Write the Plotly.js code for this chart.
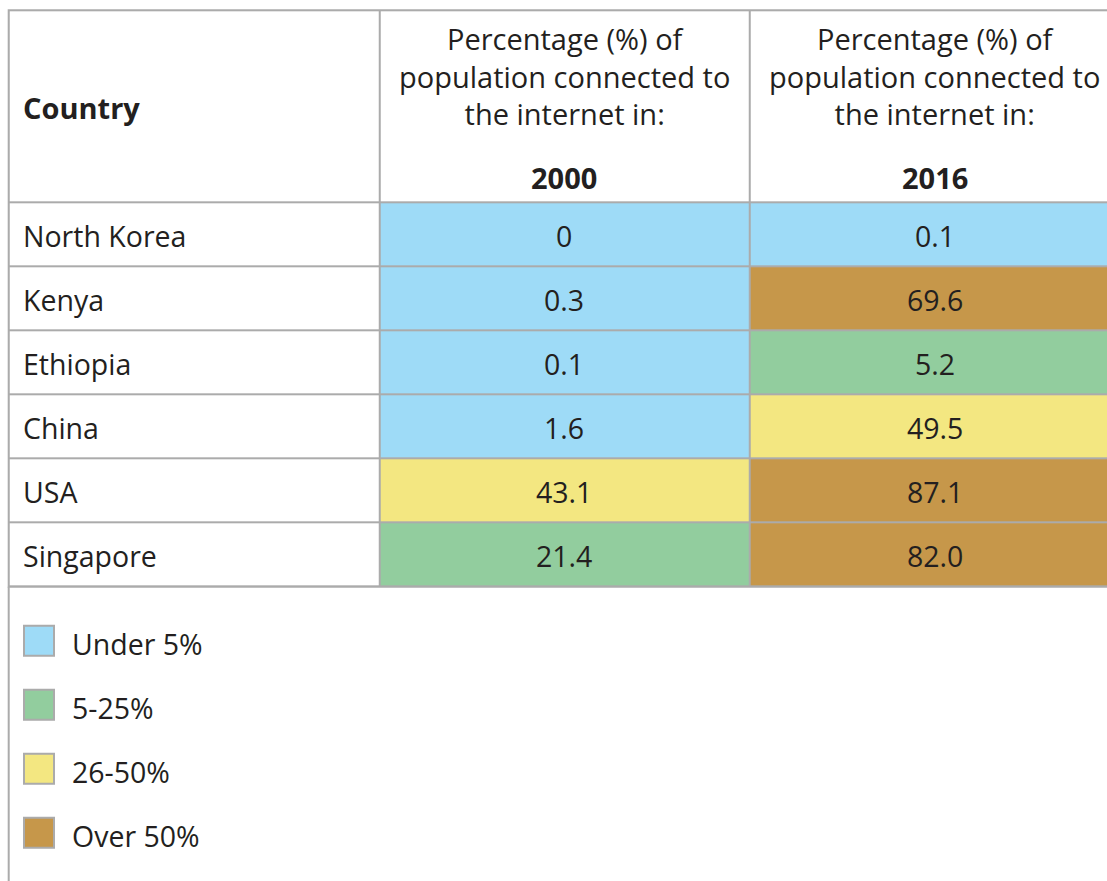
<!DOCTYPE html>
<html><head><meta charset="utf-8">
<script src="https://cdn.plot.ly/plotly-3.0.1.min.js"></script>
<style>html,body{margin:0;padding:0;background:#fff}#chart{width:1107px;height:881px}</style>
</head><body><div id="chart"></div>
<script>
// ---- data ----
const countries = ['North Korea', 'Kenya', 'Ethiopia', 'China', 'USA', 'Singapore'];
const years = ['2000', '2016'];
const values2000 = [0, 0.3, 0.1, 1.6, 43.1, 21.4];
const values2016 = [0.1, 69.6, 5.2, 49.5, 87.1, 82.0];
const labels2000 = ['0', '0.3', '0.1', '1.6', '43.1', '21.4'];
const labels2016 = ['0.1', '69.6', '5.2', '49.5', '87.1', '82.0'];
const headerCountry = 'Country';
const headerText = 'Percentage (%) of<br>population connected to<br>the internet in:';
const bandLabels = ['Under 5%', '5-25%', '26-50%', 'Over 50%'];
const bandColors = ['#9edbf7', '#92cd9e', '#f3e781', '#c6974a'];

// ---- layout constants ----
const W = 1107, H = 881;
const X0 = 8.7, COLW = 370.5;
const Y0 = 10.3, HEADH = 192.4, ROWH = 64;
const GRID = '#ababab';
const TXT = '#231f20';
const FONT = 'Open Sans';
const FS = 28.5;
const FS_HEAD = 29;

function band(v) { if (v < 5) return 1; if (v <= 25) return 2; if (v <= 50) return 3; return 4; }

const xEdges = [0, 1, 2, 3].map(i => X0 + i * COLW);
const yEdges = [Y0, Y0 + HEADH];
countries.forEach((c, i) => yEdges.push(Y0 + HEADH + (i + 1) * ROWH));
const tableBottom = yEdges[yEdges.length - 1];

const z = [[0, 0, 0]];
countries.forEach((c, i) => z.push([0, band(values2000[i]), band(values2016[i])]));

const cs = [[0, '#ffffff'], [0.125, '#ffffff'],
  [0.125, bandColors[0]], [0.375, bandColors[0]],
  [0.375, bandColors[1]], [0.625, bandColors[1]],
  [0.625, bandColors[2]], [0.875, bandColors[2]],
  [0.875, bandColors[3]], [1, bandColors[3]]];

const heat = {
  type: 'heatmap', x: xEdges, y: yEdges, z: z,
  zmin: 0, zmax: 4, colorscale: cs, showscale: false,
  xgap: 2, ygap: 2, hoverinfo: 'skip'
};

const legendStartY = tableBottom + 54;
const legendX = 39;
const legendSwatch = {
  type: 'scatter', mode: 'markers',
  x: bandLabels.map(() => legendX),
  y: bandLabels.map((b, i) => legendStartY + i * ROWH),
  marker: { symbol: 'square', size: 30, color: bandColors, line: { color: GRID, width: 2 } },
  hoverinfo: 'skip', showlegend: false, cliponaxis: false
};

const ann = [];
const colCenter = i => (xEdges[i] + xEdges[i + 1]) / 2;
const rowCenter = i => (yEdges[i + 1] + yEdges[i + 2]) / 2;
const TX = 21;
ann.push({ x: TX, y: (yEdges[0] + yEdges[1]) / 2 + 1, text: '<b>' + headerCountry + '</b>', xanchor: 'left', yanchor: 'middle', size: FS_HEAD });
years.forEach((yr, j) => {
  ann.push({ x: colCenter(j + 1), y: Y0 + 66, text: headerText, xanchor: 'center', yanchor: 'middle', align: 'center', size: FS_HEAD });
  ann.push({ x: colCenter(j + 1), y: Y0 + 167, text: '<b>' + yr + '</b>', xanchor: 'center', yanchor: 'middle', size: FS_HEAD });
});
countries.forEach((c, i) => {
  ann.push({ x: TX, y: rowCenter(i) + 1, text: c, xanchor: 'left', yanchor: 'middle' });
  ann.push({ x: colCenter(1), y: rowCenter(i) + 1, text: labels2000[i], xanchor: 'center', yanchor: 'middle' });
  ann.push({ x: colCenter(2), y: rowCenter(i) + 1, text: labels2016[i], xanchor: 'center', yanchor: 'middle' });
});
bandLabels.forEach((b, i) => {
  ann.push({ x: 70, y: legendStartY + i * ROWH + 3, text: b, xanchor: 'left', yanchor: 'middle' });
});
ann.forEach(a => {
  const s = a.size || FS; delete a.size;
  a.xref = 'x'; a.yref = 'y'; a.showarrow = false; a.font = { family: FONT, size: s, color: TXT };
});

const layout = {
  width: W, height: H, margin: { l: 0, r: 0, t: 0, b: 0 },
  paper_bgcolor: '#ffffff', plot_bgcolor: '#ffffff',
  xaxis: { range: [0, W], visible: false, fixedrange: true },
  yaxis: { range: [H, 0], visible: false, fixedrange: true },
  showlegend: false,
  annotations: ann,
  shapes: [
    { type: 'rect', layer: 'below', xref: 'x', yref: 'y', x0: X0 - 1, x1: W + 20, y0: Y0 - 1, y1: tableBottom + 1, fillcolor: GRID, line: { width: 0 } },
    { type: 'line', layer: 'below', xref: 'x', yref: 'y', x0: X0, x1: X0, y0: tableBottom, y1: H + 5, line: { color: GRID, width: 2 } }
  ]
};

Plotly.newPlot('chart', [heat, legendSwatch], layout, { displayModeBar: false, staticPlot: true });
</script></body></html>
